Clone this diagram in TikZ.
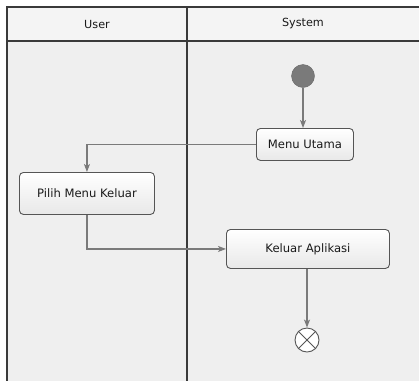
\documentclass[tikz,border=0pt]{standalone}
\usepackage{fontspec}
\setmainfont{DejaVu Sans}
\usetikzlibrary{arrows.meta,shadings}
\definecolor{lanebg}{HTML}{EFEFEF}
\definecolor{headbg}{HTML}{F4F4F4}
\definecolor{frameln}{HTML}{3A3A3A}
\definecolor{flowln}{HTML}{7A7A7A}
\definecolor{boxln}{HTML}{555555}
\tikzset{
  actbox/.style={draw=boxln, line width=0.9pt, rounded corners=4pt,
    top color=white, bottom color=black!9, anchor=north west,
    font=\fontsize{11.6}{13}\selectfont, text=black!90, inner sep=0pt},
  flow/.style={draw=flowln, line width=1.2pt,
    -{Stealth[length=8pt,width=6pt,inset=2pt,fill=flowln]}},
  frame/.style={draw=frameln, line width=1.3pt},
  hdr/.style={font=\fontsize{11.2}{13}\selectfont, text=black!90},
}
\begin{document}
\begin{tikzpicture}[x=1pt,y=-1pt]
\useasboundingbox (0,0) rectangle (419,381);
\fill[white] (0,0) rectangle (419,381);
% lanes background
\fill[lanebg] (7,41) rectangle (419,381);
\fill[headbg] (7,7) rectangle (419,41);
% frame
\draw[frame] (419,7) -- (7,7) -- (7,381);
\draw[frame, line width=1.6pt] (7,41) -- (419,41);
\draw[frame] (187,7) -- (187,381);
% headers
\node[hdr] (hu) at (97,24) {User};
\node[hdr] (hs) at (303,24) {System};
% nodes
\node[circle, draw=black!60, fill=flowln, minimum size=23pt, inner sep=0pt] (init) at (303,76) {};
\node[actbox, minimum width=97pt, minimum height=32pt] (mu) at (256,128) {Menu Utama};
\node[actbox, minimum width=135pt, minimum height=42pt] (pm) at (19,172) {Pilih Menu Keluar};
\node[actbox, minimum width=163pt, minimum height=39pt] (ka) at (226,229) {Keluar Aplikasi};
\node[circle, draw=boxln, fill=white, line width=0.9pt, minimum size=24pt, inner sep=0pt] (fin) at (307,340) {};
\draw[boxln, line width=0.9pt] (fin.north west) -- (fin.south east) (fin.north east) -- (fin.south west);
% connectors
\draw[flow] (init) -- (init |- mu.north);
\draw[flow] (mu.west) -| (pm.north);
\draw[flow] (pm.south) |- (ka.west);
\draw[flow] (ka.south -| fin) -- (fin.north);
\end{tikzpicture}
\end{document}
